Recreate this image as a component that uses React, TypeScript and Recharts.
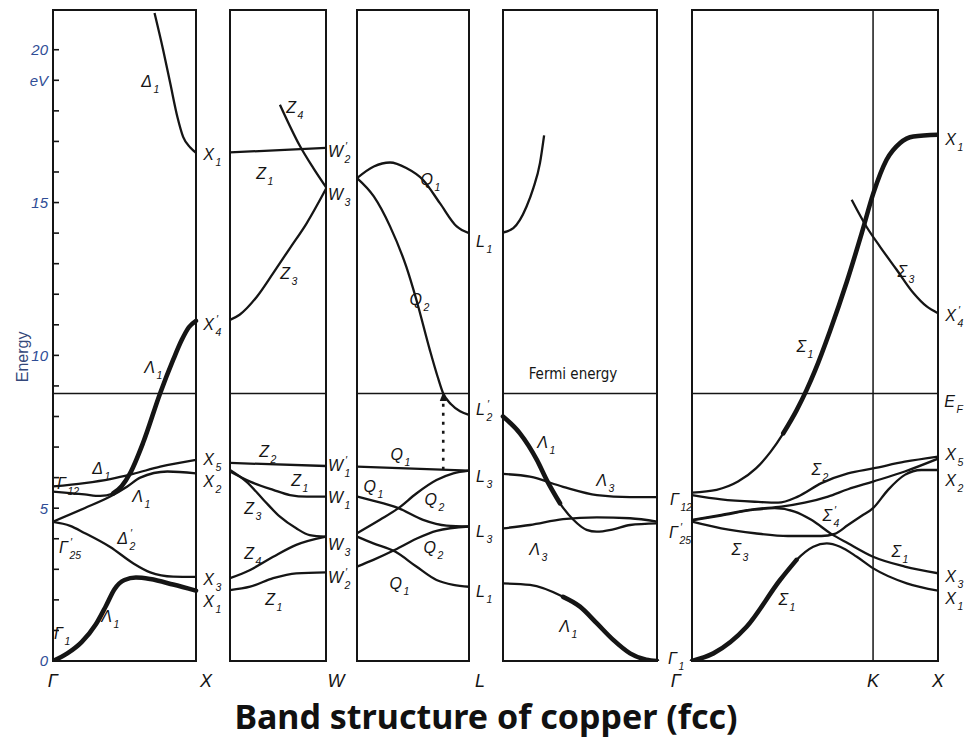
import React from "react";
import {
  LineChart,
  Line,
  XAxis,
  YAxis,
  ReferenceArea,
  ReferenceLine,
  ReferenceDot,
} from "recharts";

type Pt = [number, number]; // [fraction along the segment, energy in eV]
type Span = [number, number];

const INK = "#151515";
const AXIS_BLUE = "#2f4d96";
const LABEL_FONT = "'Liberation Sans', Arial, sans-serif";

const E_TOP = 21.3;
const FERMI_EV = 8.75;

const ENERGY_TICKS = [0, 1, 2, 3, 4, 5, 6, 7, 8, 9, 10, 11, 12, 13, 14, 15, 16, 17, 18, 19, 20];

// symmetry points under the panels
const PATH_POINTS = ["Γ", "X", "W", "L", "Γ", "K", "X"];
const PATH_TICKS = [0, 153, 283, 427, 623, 820, 885];

// panel extents along the path axis
const PANEL_GX: Span = [0, 143];
const PANEL_XW: Span = [177, 273];
const PANEL_WL: Span = [304, 416];
const PANEL_LG: Span = [450, 604];
const PANEL_GKX: Span = [639, 885];
const K_FRACTION = 0.736;

// Γ → X
const GX_D1_LOW: Pt[] = [[0, 0], [0.1, 0.25], [0.2, 0.62], [0.3, 1.2], [0.37, 1.8], [0.43, 2.35], [0.5, 2.65], [0.58, 2.73], [0.68, 2.68], [0.84, 2.5], [1, 2.3]];
const GX_D2P: Pt[] = [[0, 4.55], [0.12, 4.42], [0.22, 4.19], [0.4, 3.73], [0.56, 3.2], [0.68, 2.9], [0.84, 2.76], [1, 2.75]];
const GX_D5: Pt[] = [[0, 4.56], [0.22, 5.0], [0.4, 5.38], [0.52, 5.71], [0.61, 6.0], [0.8, 6.2], [1, 6.14]];
const GX_G12_UP: Pt[] = [[0, 5.71], [0.22, 5.82], [0.4, 5.95], [0.56, 6.12], [0.75, 6.36], [1, 6.58]];
const GX_G12_DIP: Pt[] = [[0, 5.54], [0.22, 5.45], [0.33, 5.4], [0.42, 5.48], [0.48, 5.72]];
const GX_D1_SP: Pt[] = [[0.42, 5.48], [0.48, 5.72], [0.54, 6.15], [0.63, 7.14], [0.75, 8.77], [0.84, 9.85], [0.9, 10.5], [0.95, 10.92], [1, 11.13]];
const GX_D1_HIGH: Pt[] = [[0.71, 21.2], [0.77, 20.0], [0.82, 18.9], [0.87, 17.8], [0.91, 17.15], [0.96, 16.8], [1, 16.63]];

// X → W
const XW_Z1_HIGH: Pt[] = [[0, 16.64], [1, 16.79]];
const XW_Z4_HIGH: Pt[] = [[0.52, 18.2], [0.73, 16.84], [0.865, 16.14], [1, 15.5]];
const XW_Z3_HIGH: Pt[] = [[0, 11.16], [0.1, 11.33], [0.28, 11.92], [0.45, 12.69], [0.625, 13.51], [0.8, 14.33], [1, 15.45]];
const XW_Z2: Pt[] = [[0, 6.48], [1, 6.38]];
const XW_Z1_MID: Pt[] = [[0, 6.2], [0.21, 5.87], [0.45, 5.6], [0.625, 5.43], [0.8, 5.38], [1, 5.38]];
const XW_Z3_MID: Pt[] = [[0, 6.25], [0.17, 5.87], [0.35, 5.27], [0.52, 4.72], [0.69, 4.34], [0.83, 4.12], [1, 4.07]];
const XW_Z4_LOW: Pt[] = [[0, 2.71], [0.21, 2.98], [0.45, 3.41], [0.69, 3.8], [1, 4.07]];
const XW_Z1_LOW: Pt[] = [[0, 2.32], [0.21, 2.43], [0.45, 2.71], [0.69, 2.87], [1, 2.9]];

// W → L
const WL_Q1_HIGH: Pt[] = [[0, 15.8], [0.15, 16.18], [0.295, 16.31], [0.44, 16.13], [0.59, 15.74], [0.74, 14.98], [0.89, 14.22], [1, 14.0]];
const WL_Q2_HIGH: Pt[] = [[0, 15.8], [0.15, 15.2], [0.295, 14.22], [0.44, 12.9], [0.53, 11.82], [0.65, 10.18], [0.72, 9.3], [0.77, 8.75], [0.84, 8.4], [0.92, 8.17], [1, 8.05]];
const WL_Q1_TOP: Pt[] = [[0, 6.36], [1, 6.23]];
const WL_Q1_MID: Pt[] = [[0, 5.38], [0.116, 5.27], [0.37, 5.0], [0.59, 4.62], [0.8, 4.43], [1, 4.4]];
const WL_Q2_MID: Pt[] = [[0, 4.18], [0.205, 4.62], [0.37, 5.0], [0.53, 5.48], [0.71, 5.92], [0.86, 6.14], [1, 6.23]];
const WL_Q1_LOW: Pt[] = [[0, 4.07], [0.146, 3.85], [0.34, 3.58], [0.53, 3.09], [0.71, 2.65], [0.86, 2.49], [1, 2.43]];
const WL_Q2_LOW: Pt[] = [[0, 3.09], [0.146, 3.31], [0.34, 3.64], [0.53, 4.0], [0.71, 4.26], [1, 4.4]];
const WL_TRANSITION = { k: 0.77, from: 6.26, to: 8.8 };

// L → Γ
const LG_L1_HIGH: Pt[] = [[0, 14.02], [0.067, 14.16], [0.11, 14.43], [0.153, 14.87], [0.197, 15.47], [0.24, 16.29], [0.267, 17.2]];
const LG_LAM1_UP: Pt[] = [[0, 8.0], [0.11, 7.45], [0.22, 6.58], [0.284, 5.92], [0.37, 5.16], [0.457, 4.62], [0.543, 4.29], [0.608, 4.23], [0.716, 4.31], [0.825, 4.45], [1, 4.5]];
const LG_LAM3_UP: Pt[] = [[0, 6.12], [0.175, 6.03], [0.39, 5.7], [0.61, 5.43], [0.825, 5.36], [1, 5.36]];
const LG_LAM3_LOW: Pt[] = [[0, 4.34], [0.175, 4.45], [0.39, 4.64], [0.61, 4.7], [0.825, 4.67], [1, 4.56]];
const LG_LAM1_LOW: Pt[] = [[0, 2.54], [0.175, 2.49], [0.39, 2.1], [0.5, 1.78], [0.61, 1.23], [0.716, 0.69], [0.825, 0.25], [0.93, 0.04], [1, 0]];

// Γ → K → X
const GK_S1_SP: Pt[] = [[0, 5.51], [0.1, 5.6], [0.187, 5.87], [0.26, 6.3], [0.32, 6.85], [0.371, 7.45], [0.425, 8.2], [0.466, 8.87], [0.5, 9.5], [0.561, 10.8], [0.629, 12.4], [0.69, 14.0], [0.737, 15.3], [0.791, 16.4], [0.846, 16.95], [0.9, 17.16], [1, 17.22]];
const GK_S2: Pt[] = [[0, 5.43], [0.119, 5.29], [0.255, 5.21], [0.35, 5.18], [0.43, 5.38], [0.526, 5.82], [0.634, 6.14], [0.736, 6.3], [0.865, 6.52], [1, 6.69]];
const GK_S25_UP: Pt[] = [[0, 4.62], [0.119, 4.78], [0.255, 4.97], [0.363, 5.05], [0.458, 5.18], [0.553, 5.38], [0.634, 5.62], [0.736, 5.87], [0.865, 6.2], [1, 6.62]];
const GK_S25_BUMP: Pt[] = [[0, 4.6], [0.119, 4.76], [0.255, 4.95], [0.336, 5.0], [0.417, 4.89], [0.485, 4.62], [0.566, 4.16], [0.634, 3.85], [0.736, 3.41], [0.865, 3.09], [1, 2.87]];
const GK_S4P: Pt[] = [[0, 4.56], [0.119, 4.34], [0.255, 4.18], [0.39, 4.09], [0.526, 4.09], [0.58, 4.16], [0.634, 4.45], [0.69, 4.75], [0.736, 5.0], [0.797, 5.6], [0.865, 6.09], [0.932, 6.25], [1, 6.25]];
const GK_S1_LOW: Pt[] = [[0, 0], [0.087, 0.25], [0.222, 1.12], [0.358, 2.65], [0.425, 3.31], [0.493, 3.74], [0.548, 3.85], [0.602, 3.74], [0.67, 3.41], [0.737, 3.03], [0.873, 2.54], [1, 2.3]];
const GK_S3_HIGH: Pt[] = [[0.649, 15.09], [0.71, 14.2], [0.764, 13.56], [0.832, 12.8], [0.9, 12.04], [0.954, 11.6], [1, 11.38]];

// state labels: [path position, energy, text]; a ' marks a prime, trailing chars are the subscript
const LABELS: [number, number, string][] = [
  [99, 18.95, "Δ1"], [102, 9.59, "Λ1"], [50, 6.28, "Δ1"], [90, 5.37, "Λ1"], [13, 5.8, "Γ12"],
  [75, 3.99, "Δ'2"], [15, 3.7, "Γ'25"], [59, 1.44, "Λ1"], [10, 0.88, "Γ1"],
  [161, 16.56, "X1"], [161, 11.0, "X'4"], [161, 6.58, "X5"], [161, 5.86, "X2"], [161, 2.65, "X3"], [161, 1.93, "X1"],
  [243, 18.1, "Z4"], [290, 16.66, "W'2"], [213, 15.94, "Z1"], [290, 15.25, "W3"], [237, 12.66, "Z3"],
  [216, 6.84, "Z2"], [248, 5.89, "Z1"], [290, 6.38, "W'1"], [290, 5.33, "W1"], [201, 4.97, "Z3"],
  [290, 3.8, "W3"], [201, 3.5, "Z4"], [290, 2.72, "W'2"], [222, 2.0, "Z1"],
  [380, 15.74, "Q1"], [432, 13.71, "L1"], [369, 11.81, "Q2"], [432, 8.21, "L'2"], [350, 6.74, "Q1"],
  [323, 5.69, "Q1"], [384, 5.27, "Q2"], [432, 6.02, "L3"], [432, 4.22, "L3"], [383, 3.7, "Q2"],
  [349, 2.52, "Q1"], [432, 2.26, "L1"],
  [495, 7.13, "Λ1"], [554, 5.89, "Λ3"], [487, 3.63, "Λ3"], [517, 1.11, "Λ1"],
  [626, 5.27, "Γ12"], [625, 4.19, "Γ'25"], [624, 0.05, "Γ1"],
  [903, 17.05, "X1"], [854, 12.73, "Σ3"], [903, 11.29, "X'4"], [753, 10.27, "Σ1"], [902, 8.48, "EF"],
  [903, 6.74, "X5"], [903, 5.89, "X2"], [768, 6.25, "Σ2"], [779, 4.74, "Σ'4"], [688, 3.63, "Σ3"],
  [848, 3.57, "Σ1"], [735, 2.0, "Σ1"], [903, 2.75, "X3"], [903, 2.03, "X1"],
];

const THIN = 2.3;
const HEAVY = 4.6;

// which part of a band is drawn with the heavy pen (fractions along the segment)
const BANDS: { span: Span; pts: Pt[]; heavy?: Span }[] = [
  { span: PANEL_GX, pts: GX_D1_LOW, heavy: [0, 1] },
  { span: PANEL_GX, pts: GX_D2P },
  { span: PANEL_GX, pts: GX_D5 },
  { span: PANEL_GX, pts: GX_G12_UP },
  { span: PANEL_GX, pts: GX_G12_DIP },
  { span: PANEL_GX, pts: GX_D1_SP, heavy: [0, 1] },
  { span: PANEL_GX, pts: GX_D1_HIGH },
  { span: PANEL_XW, pts: XW_Z1_HIGH },
  { span: PANEL_XW, pts: XW_Z4_HIGH },
  { span: PANEL_XW, pts: XW_Z3_HIGH },
  { span: PANEL_XW, pts: XW_Z2 },
  { span: PANEL_XW, pts: XW_Z1_MID },
  { span: PANEL_XW, pts: XW_Z3_MID },
  { span: PANEL_XW, pts: XW_Z4_LOW },
  { span: PANEL_XW, pts: XW_Z1_LOW },
  { span: PANEL_WL, pts: WL_Q1_HIGH },
  { span: PANEL_WL, pts: WL_Q2_HIGH },
  { span: PANEL_WL, pts: WL_Q1_TOP },
  { span: PANEL_WL, pts: WL_Q1_MID },
  { span: PANEL_WL, pts: WL_Q2_MID },
  { span: PANEL_WL, pts: WL_Q1_LOW },
  { span: PANEL_WL, pts: WL_Q2_LOW },
  { span: PANEL_LG, pts: LG_L1_HIGH },
  { span: PANEL_LG, pts: LG_LAM1_UP, heavy: [0, 0.37] },
  { span: PANEL_LG, pts: LG_LAM3_UP },
  { span: PANEL_LG, pts: LG_LAM3_LOW },
  { span: PANEL_LG, pts: LG_LAM1_LOW, heavy: [0.39, 1] },
  { span: PANEL_GKX, pts: GK_S1_SP, heavy: [0.371, 1] },
  { span: PANEL_GKX, pts: GK_S2 },
  { span: PANEL_GKX, pts: GK_S25_UP },
  { span: PANEL_GKX, pts: GK_S25_BUMP },
  { span: PANEL_GKX, pts: GK_S4P },
  { span: PANEL_GKX, pts: GK_S1_LOW, heavy: [0, 0.425] },
  { span: PANEL_GKX, pts: GK_S3_HIGH },
];

const PANELS: Span[] = [PANEL_GX, PANEL_XW, PANEL_WL, PANEL_LG, PANEL_GKX];

const at = (span: Span, k: number) => span[0] + k * (span[1] - span[0]);
const toRows = (span: Span, pts: Pt[]) => pts.map(([k, e]) => ({ x: at(span, k), e }));

function BandLabel({ cx, cy, text }: { cx: number; cy: number; text: string }) {
  if (text === "Fermi energy") {
    return (
      <text x={cx} y={cy} dy="0.35em" textAnchor="middle" fontSize={15} fill={INK}
        fontFamily="'Liberation Sans Narrow', 'DejaVu Sans Condensed', Arial, sans-serif">
        {text}
      </text>
    );
  }
  if (text === "Energy") {
    return (
      <text x={cx} y={cy} dy="0.35em" textAnchor="middle" fontSize={16} fill="#34487a"
        fontFamily={LABEL_FONT} transform={`rotate(-90 ${cx} ${cy})`}>
        {text}
      </text>
    );
  }
  const base = text[0];
  const prime = text[1] === "'";
  const sub = text.slice(prime ? 2 : 1);
  return (
    <g fontFamily={LABEL_FONT} fontStyle="italic" fill={INK}>
      <text x={cx} y={cy + 5} fontSize={16} textAnchor="end">{base}</text>
      {prime && <text x={cx + 2} y={cy - 2} fontSize={11}>′</text>}
      {sub && <text x={cx + 1.5} y={cy + 11} fontSize={10.5}>{sub}</text>}
    </g>
  );
}

function EnergyTick(props: any) {
  const { x, y, payload } = props;
  const v = payload.value as number;
  const text = v % 5 === 0 ? String(v) : v === 19 ? "eV" : "";
  return (
    <g>
      <line x1={x} x2={x + 6} y1={y} y2={y} stroke={INK} strokeWidth={1.6} />
      {text && (
        <text x={x - 5} y={y} dy="0.36em" textAnchor="end" fontSize={15} fontStyle="italic"
          fill={AXIS_BLUE} fontFamily={LABEL_FONT}>
          {text}
        </text>
      )}
    </g>
  );
}

function PathTick(props: any) {
  const { x, y, payload } = props;
  const name = PATH_POINTS[PATH_TICKS.indexOf(payload.value)] ?? "";
  return (
    <text x={x} y={y + 26} textAnchor="middle" fontSize={18} fontStyle="italic" fill={INK}
      fontFamily={LABEL_FONT}>
      {name}
    </text>
  );
}

export default function App() {
  const kX = at(PANEL_GKX, K_FRACTION);
  const tx = at(PANEL_WL, WL_TRANSITION.k);

  return (
    <div style={{ position: "relative", width: 972, height: 749, background: "#fff" }}>
      <style>{"body{margin:0}"}</style>
      <LineChart width={972} height={749} margin={{ top: 10, right: 34, bottom: 58, left: 0 }}>
        <XAxis
          type="number"
          dataKey="x"
          domain={[0, 885]}
          ticks={PATH_TICKS}
          interval={0}
          allowDataOverflow
          axisLine={false}
          tickLine={false}
          tickSize={0}
          tickMargin={0}
          height={30}
          tick={<PathTick />}
        />
        <YAxis
          type="number"
          domain={[0, E_TOP]}
          ticks={ENERGY_TICKS}
          interval={0}
          allowDataOverflow
          axisLine={false}
          tickLine={false}
          tickSize={0}
          tickMargin={0}
          width={53}
          tick={<EnergyTick />}
        />

        {PANELS.map((p, i) => (
          <ReferenceArea key={`panel-${i}`} x1={p[0]} x2={p[1]} y1={0} y2={E_TOP}
            fill="none" stroke={INK} strokeWidth={2} ifOverflow="visible" />
        ))}
        <ReferenceLine x={kX} stroke={INK} strokeWidth={1.5} />

        {PANELS.map((p, i) => (
          <Line key={`fermi-${i}`} data={[{ x: p[0], e: FERMI_EV }, { x: p[1], e: FERMI_EV }]}
            dataKey="e" type="linear" stroke={INK} strokeWidth={1.6} dot={false} activeDot={false}
            isAnimationActive={false} legendType="none" />
        ))}

        {BANDS.map((b, i) => {
          const full = b.heavy && b.heavy[0] <= 0 && b.heavy[1] >= 1;
          const heavyPts = b.heavy
            ? b.pts.filter(([k]) => k >= b.heavy![0] - 1e-6 && k <= b.heavy![1] + 1e-6)
            : [];
          return (
            <React.Fragment key={`band-${i}`}>
              {!full && (
                <Line data={toRows(b.span, b.pts)} dataKey="e" type="monotone" stroke={INK}
                  strokeWidth={THIN} dot={false} activeDot={false} isAnimationActive={false}
                  legendType="none" />
              )}
              {heavyPts.length > 1 && (
                <Line data={toRows(b.span, heavyPts)} dataKey="e" type="monotone" stroke={INK}
                  strokeWidth={HEAVY} strokeLinecap="round" dot={false} activeDot={false}
                  isAnimationActive={false} legendType="none" />
              )}
            </React.Fragment>
          );
        })}

        <Line data={[{ x: tx, e: WL_TRANSITION.from }, { x: tx, e: WL_TRANSITION.to - 0.35 }]}
          dataKey="e" type="linear" stroke={INK} strokeWidth={2.6} strokeDasharray="3 6"
          dot={false} activeDot={false} isAnimationActive={false} legendType="none" />
        <ReferenceDot x={tx} y={WL_TRANSITION.to} r={0} ifOverflow="visible"
          shape={(p: any) => (
            <polygon points={`${p.cx - 3.5},${p.cy + 9} ${p.cx + 3.5},${p.cy + 9} ${p.cx},${p.cy}`} fill={INK} />
          )} />

        {LABELS.map(([x, e, t], i) => (
          <ReferenceDot key={`lab-${i}`} x={x} y={e} r={0} ifOverflow="visible"
            shape={(p: any) => <BandLabel cx={p.cx} cy={p.cy} text={t} />} />
        ))}
        <ReferenceDot x={520} y={9.39} r={0} ifOverflow="visible"
          shape={(p: any) => <BandLabel cx={p.cx} cy={p.cy} text="Fermi energy" />} />
        <ReferenceDot x={-31} y={9.95} r={0} ifOverflow="visible"
          shape={(p: any) => <BandLabel cx={p.cx} cy={p.cy} text="Energy" />} />
      </LineChart>
      <div
        style={{
          position: "absolute",
          left: 0,
          top: 699,
          width: 972,
          textAlign: "center",
          fontFamily: "'Noto Sans', sans-serif",
          fontWeight: 700,
          fontSize: 34,
          lineHeight: "34px",
          color: "#111",
        }}
      >
        Band structure of copper (fcc)
      </div>
    </div>
  );
}
